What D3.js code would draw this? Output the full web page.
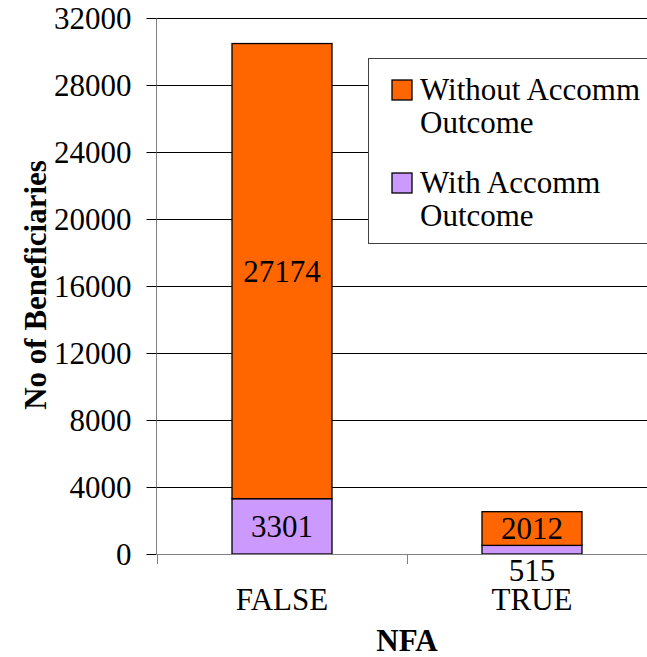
<!DOCTYPE html>
<html><head><meta charset="utf-8"><script src="https://cdn.jsdelivr.net/npm/d3@7"></script></head>
<body style="margin:0">
<script>
const categories = ["FALSE", "TRUE"];
const withAccomm = [3301, 515];
const withoutAccomm = [27174, 2012];
const seriesNames = ["Without Accomm Outcome", "With Accomm Outcome"];
const yTicks = [0, 4000, 8000, 12000, 16000, 20000, 24000, 28000, 32000];
const colors = { without: "#FF6600", with: "#CC99FF" };

const FONT = "Liberation Serif";
const FS = 31;
const W = 647, H = 657;
const svg = d3.select("body").append("svg").attr("width", W).attr("height", H);
function txt(sel) {
  return sel.attr("font-family", FONT).style("font-family", FONT).attr("font-size", FS).attr("fill", "#000");
}

const y = d3.scaleLinear().domain([0, 32000]).range([554, 18]);
const x = d3.scaleBand().domain(categories).range([157, 657]).paddingInner(0.6).paddingOuter(0.3);

// gridlines
svg.append("g").selectAll("line").data(yTicks.filter(d => d > 0)).join("line")
  .attr("x1", 157).attr("x2", W).attr("y1", d => Math.round(y(d)) + 0.5).attr("y2", d => Math.round(y(d)) + 0.5)
  .attr("stroke", "#000").attr("stroke-width", 1);

// y axis
const yAxis = d3.axisLeft(y).tickValues(yTicks).tickSize(10).tickPadding(15).tickFormat(d3.format("d"));
const gy = svg.append("g").attr("transform", "translate(156.5,0)").call(yAxis);
gy.attr("font-family", FONT).attr("font-size", FS);
gy.select(".domain").attr("stroke", "#808080").attr("d", "M0," + y(32000) + "V" + y(0));
gy.selectAll(".tick line").attr("stroke", "#000");
txt(gy.selectAll(".tick text")).attr("dy", "0.34em");

// bars
const stacked = categories.map((c, i) => ({ cat: c, w: withAccomm[i], wo: withoutAccomm[i] }));
const gb = svg.append("g");
gb.selectAll("rect.with").data(stacked).join("rect").attr("class", "with")
  .attr("x", d => x(d.cat)).attr("width", x.bandwidth())
  .attr("y", d => y(d.w)).attr("height", d => y(0) - y(d.w))
  .attr("fill", colors.with).attr("stroke", "#000").attr("stroke-width", 1.3);
gb.selectAll("rect.without").data(stacked).join("rect").attr("class", "without")
  .attr("x", d => x(d.cat)).attr("width", x.bandwidth())
  .attr("y", d => y(d.w + d.wo)).attr("height", d => y(d.w) - y(d.w + d.wo))
  .attr("fill", colors.without).attr("stroke", "#000").attr("stroke-width", 1.3);

// x axis
svg.append("line").attr("x1", 157).attr("x2", W).attr("y1", y(0) + 0.5).attr("y2", y(0) + 0.5)
  .attr("stroke", "#808080").attr("stroke-width", 1);
const bounds = [157, 407, 657];
svg.append("g").selectAll("line").data(bounds).join("line")
  .attr("x1", d => d + 0.5).attr("x2", d => d + 0.5).attr("y1", y(0)).attr("y2", y(0) + 10)
  .attr("stroke", "#808080");
categories.forEach(c => {
  txt(svg.append("text")).attr("x", x(c) + x.bandwidth() / 2).attr("y", 610)
    .attr("text-anchor", "middle").text(c);
});

// value labels
stacked.forEach(d => {
  const cx = x(d.cat) + x.bandwidth() / 2;
  txt(svg.append("text")).attr("x", cx).attr("y", (y(d.w) + y(d.w + d.wo)) / 2).attr("dy", "0.35em")
    .attr("text-anchor", "middle").text(d.wo);
  const h = y(0) - y(d.w);
  const t = txt(svg.append("text")).attr("x", cx).attr("text-anchor", "middle").text(d.w);
  if (h > 30) t.attr("y", (y(0) + y(d.w)) / 2).attr("dy", "0.35em");
  else t.attr("y", y(0) + 27);
});

// axis titles
txt(svg.append("text")).attr("transform", "translate(46,285) rotate(-90)")
  .attr("text-anchor", "middle").attr("font-weight", "bold").text("No of Beneficiaries");
txt(svg.append("text")).attr("x", 407).attr("y", 651)
  .attr("text-anchor", "middle").attr("font-weight", "bold").text("NFA");

// legend
svg.append("rect").attr("x", 368.5).attr("y", 58.5).attr("width", 300).attr("height", 185)
  .attr("fill", "#fff").attr("stroke", "#404040").attr("stroke-width", 1);
const legendItems = [
  { color: colors.without, lines: ["Without Accomm", "Outcome"], y0: 80 },
  { color: colors.with, lines: ["With Accomm", "Outcome"], y0: 173 }
];
legendItems.forEach(it => {
  svg.append("rect").attr("x", 392).attr("y", it.y0).attr("width", 20).attr("height", 20)
    .attr("fill", it.color).attr("stroke", "#000").attr("stroke-width", 1.3);
  it.lines.forEach((t, i) => {
    txt(svg.append("text")).attr("x", 420).attr("y", it.y0 + 20 + i * 33).text(t);
  });
});
</script>
</body>
</html>
